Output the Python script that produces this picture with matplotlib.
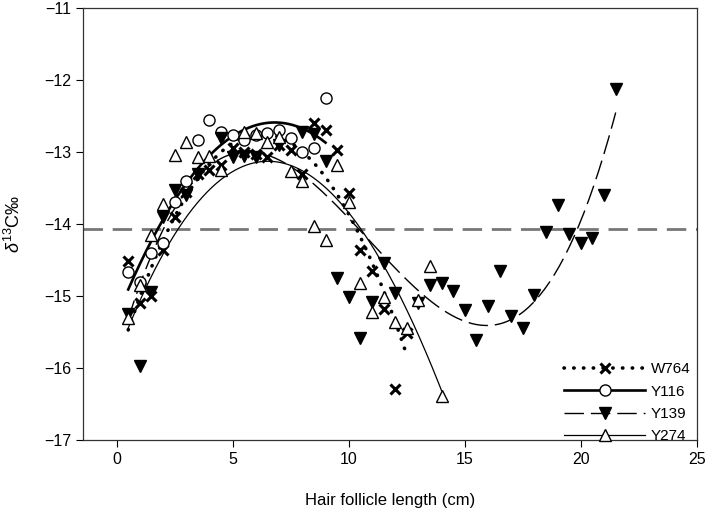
import numpy as np
import matplotlib
matplotlib.use("Agg")
import matplotlib.pyplot as plt
from matplotlib.lines import Line2D

plt.rcParams['font.family'] = ['Liberation Sans', 'DejaVu Sans']
plt.rcParams['mathtext.fontset'] = 'custom'
plt.rcParams['mathtext.rm'] = 'Liberation Sans'
plt.rcParams['mathtext.it'] = 'Liberation Sans:italic'

# hair follicle length (cm) and d13C values for each animal
x_w764 = [0.5, 1.0, 1.5, 2.0, 2.5, 3.0, 3.5, 4.0, 4.5, 5.0, 5.5, 6.0, 6.5, 7.0, 7.5,
          8.0, 8.5, 9.0, 9.5, 10.0, 10.5, 11.0, 11.5, 12.0, 12.5]
y_w764 = [-14.52, -15.10, -15.00, -14.36, -13.90, -13.55, -13.30, -13.25, -13.18, -12.95,
          -13.00, -13.02, -13.07, -12.90, -12.97, -13.30, -12.60, -12.69, -12.97, -13.57,
          -14.36, -14.66, -15.18, -16.30, -15.52]

x_y116 = [0.5, 1.0, 1.5, 2.0, 2.5, 3.0, 3.5, 4.0, 4.5, 5.0, 5.5, 6.0, 6.5, 7.0, 7.5,
          8.0, 8.5, 9.0]
y_y116 = [-14.67, -14.80, -14.40, -14.26, -13.70, -13.40, -12.83, -12.55, -12.72, -12.76,
          -12.83, -12.76, -12.74, -12.69, -12.81, -13.00, -12.94, -12.25]

x_y139 = [0.5, 1.0, 1.5, 2.0, 2.5, 3.0, 3.5, 4.5, 5.0, 5.5, 6.0, 7.0, 8.0, 8.5, 9.0,
          9.5, 10.0, 10.5, 11.0, 11.5, 12.0, 13.0, 13.5, 14.0, 14.5, 15.0, 15.5, 16.0,
          16.5, 17.0, 17.5, 18.0, 18.5, 19.0, 19.5, 20.0, 20.5, 21.0, 21.5]
y_y139 = [-15.25, -15.97, -14.95, -13.90, -13.53, -13.60, -13.30, -12.80, -13.07, -13.05,
          -13.07, -12.90, -12.72, -12.75, -13.13, -14.75, -15.01, -15.59, -15.08, -14.54,
          -14.96, -15.10, -14.85, -14.82, -14.93, -15.20, -15.61, -15.14, -14.65, -15.28,
          -15.45, -14.99, -14.11, -13.74, -14.14, -14.26, -14.19, -13.60, -12.13]

x_y274 = [0.5, 1.0, 1.5, 2.0, 2.5, 3.0, 3.5, 4.0, 4.5, 5.5, 6.0, 6.5, 7.0, 7.5, 8.0,
          8.5, 9.0, 9.5, 10.0, 10.5, 11.0, 11.5, 12.0, 12.5, 13.0, 13.5, 14.0]
y_y274 = [-15.30, -14.85, -14.15, -13.72, -13.04, -12.86, -13.07, -13.05, -13.25, -12.72,
          -12.74, -12.86, -12.79, -13.27, -13.40, -14.03, -14.22, -13.18, -13.70, -14.82,
          -15.22, -15.01, -15.36, -15.45, -15.05, -14.58, -16.39]

trend_x_w764 = [0.55, 1.45, 1.75, 2.25, 8.4, 8.7, 9.0, 9.45, 10.0, 10.45, 10.95, 11.4, 11.7, 12.1, 12.5]
trend_y_w764 = [-15.43, -14.62, -14.41, -14.08, -13.12, -13.23, -13.34, -13.55, -13.88, -14.13,
                -14.50, -14.82, -15.15, -15.46, -15.79]
trend_x_y139 = [0.5, 2.0, 5.5, 8.5, 10.0, 10.76, 11.76, 12.87, 13.91, 14.75, 15.78, 16.76, 17.47,
                18.2, 18.79, 19.3, 19.79, 20.18, 20.65, 21.08, 21.5]
trend_y_y139 = [-15.30, -14.10, -13.05, -13.35, -13.85, -14.22, -14.59, -14.92, -15.19, -15.32,
                -15.40, -15.36, -15.22, -14.99, -14.73, -14.45, -14.06, -13.80, -13.43, -12.97, -12.42]
trend_x_y274 = [0.5, 6.2, 7.6, 9.6, 10.4, 11.45, 12.05, 12.8, 14.0]
trend_y_y274 = [-15.45, -13.09, -13.23, -13.72, -14.06, -14.50, -14.87, -15.38, -16.35]

reference_level = -14.07

fig, ax = plt.subplots(figsize=(7.09, 5.12), dpi=100)
fig.subplots_adjust(left=0.117, right=0.983, top=0.984, bottom=0.141)

ax.axhline(reference_level, color='#777777', lw=2, dashes=(7, 3.5), zorder=1)

series = [
    ('W764', x_w764, y_w764, trend_x_w764, trend_y_w764, 3,
     dict(marker='x', ms=7, mew=2.2, mfc='black', mec='black'),
     dict(ls=(0, (0.1, 2.6)), lw=2.6, dash_capstyle='round')),
    ('Y116', x_y116, y_y116, x_y116, y_y116, 2,
     dict(marker='o', ms=8, mew=1, mfc='white', mec='black'),
     dict(ls='-', lw=1.9)),
    ('Y139', x_y139, y_y139, trend_x_y139, trend_y_y139, 4,
     dict(marker='v', ms=8, mew=1, mfc='black', mec='black'),
     dict(ls=(0, (14, 5)), lw=1.0)),
    ('Y274', x_y274, y_y274, trend_x_y274, trend_y_y274, 3,
     dict(marker='^', ms=8, mew=1, mfc='white', mec='black'),
     dict(ls='-', lw=0.9)),
]

handles = []
for name, xs, ys, tx, ty, deg, mk, ln in series:
    ax.plot(xs, ys, ls='none', zorder=3, **mk)
    coef = np.polyfit(tx, ty, deg)
    xx = np.linspace(min(xs), max(xs), 200)
    ax.plot(xx, np.polyval(coef, xx), color='black', zorder=2, **ln)
    handles.append(Line2D([], [], color='black', label=name, **mk, **ln))

ax.set_xlim(-1.45, 25)
ax.set_ylim(-17, -11)
ax.set_xticks([0, 5, 10, 15, 20, 25])
ax.set_yticks([-17, -16, -15, -14, -13, -12, -11])
ax.set_yticklabels(['\u221217', '\u221216', '\u221215', '\u221214', '\u221213', '\u221212', '\u221211'])
ax.tick_params(direction='out', length=5, labelsize=11.5, top=False, right=False)
for s in ax.spines.values():
    s.set_linewidth(0.9)
    s.set_color('#333333')

ax.set_xlabel('Hair follicle length (cm)', fontsize=12, labelpad=19)
ax.set_ylabel(r'$\delta^{13}$C‰', fontsize=13, labelpad=14)

ax.legend(handles=handles, loc='lower right', bbox_to_anchor=(1.012, -0.04), frameon=False,
          fontsize=11, handlelength=5.3, handletextpad=0.35, labelspacing=0.55)

fig.savefig('out.png', dpi=100)
